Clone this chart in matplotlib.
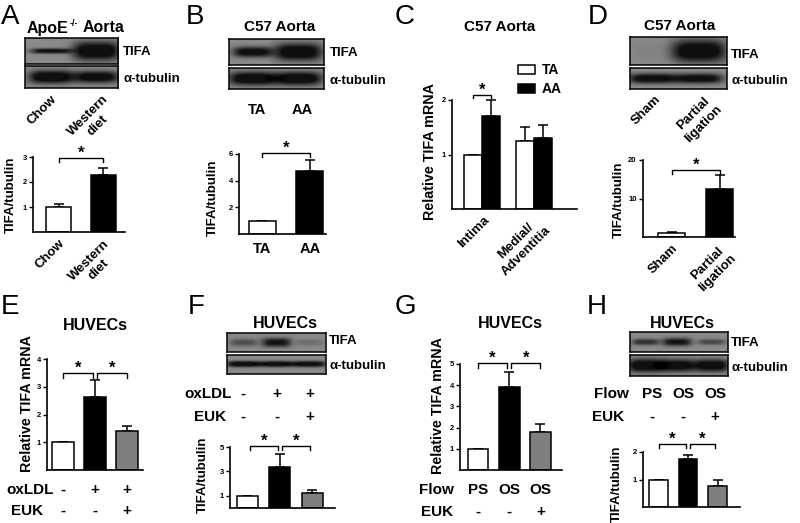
import numpy as np
import matplotlib
matplotlib.use("Agg")
import matplotlib.pyplot as plt
from matplotlib.transforms import blended_transform_factory

plt.rcParams['font.family'] = ['Liberation Sans', 'DejaVu Sans']

# ---------------- data ----------------
# A
a_labels = ['Chow', 'Western\ndiet']
a_vals = [1.0, 2.27]
a_errs = [0.12, 0.31]
a_yticks = [1, 2, 3]
a_tifa = [0.85, 1.0]
a_tub = [1.0, 0.95]
# B
b_labels = ['TA', 'AA']
b_vals = [1.0, 4.7]
b_errs = [0.0, 0.85]
b_yticks = [2, 4, 6]
b_tifa = [0.9, 1.0]
b_tub = [1.0, 1.0]
# C
c_groups = ['Intima', 'Medial/\nAdventitia']
c_ta = [1.0, 1.24]
c_ta_err = [0.0, 0.26]
c_aa = [1.70, 1.30]
c_aa_err = [0.30, 0.24]
c_yticks = [1, 2]
# D
d_labels = ['Sham', 'Partial\nligation']
d_vals = [1.0, 12.4]
d_errs = [0.2, 3.7]
d_yticks = [10, 20]
d_tifa = [0.05, 1.0]
d_tub = [0.92, 0.9]
# E
e_vals = [1.0, 2.63, 1.4]
e_errs = [0.0, 0.6, 0.17]
e_yticks = [1, 2, 3, 4]
e_oxldl = ['-', '+', '+']
e_euk = ['-', '-', '+']
# F
f_vals = [1.0, 3.4, 1.2]
f_errs = [0.0, 1.05, 0.28]
f_yticks = [1, 3, 5]
f_oxldl = ['-', '+', '+']
f_euk = ['-', '-', '+']
f_tifa = [0.4, 0.8, 0.18]
f_tub = [1.0, 0.95, 0.95]
# G
g_vals = [1.0, 3.9, 1.8]
g_errs = [0.0, 0.7, 0.35]
g_yticks = [1, 2, 3, 4, 5]
g_flow = ['PS', 'OS', 'OS']
g_euk = ['-', '-', '+']
# H
h_vals = [1.0, 1.75, 0.77]
h_errs = [0.0, 0.15, 0.2]
h_yticks = [1, 2]
h_flow = ['PS', 'OS', 'OS']
h_euk = ['-', '-', '+']
h_tifa = [0.6, 0.8, 0.45]
h_tub = [1.0, 0.95, 0.95]

WHITE, BLACK, GRAY = 'white', 'black', '#7f7f7f'

# ---------------- figure ----------------
W, H = 800, 523
fig = plt.figure(figsize=(8, 5.23), dpi=100)
fig.patch.set_facecolor('white')


def add_ax(x0, y0, x1, y1):
    return fig.add_axes([x0 / W, 1 - y1 / H, (x1 - x0) / W, (y1 - y0) / H])


def T(x, y, s, size=10, weight='bold', **kw):
    kw.setdefault('ha', 'center')
    kw.setdefault('va', 'center')
    return fig.text(x / W, 1 - y / H, s, fontsize=size, fontweight=weight, **kw)


def blot(box, lanes, intens, band_h, band_w, bg=0.54):
    ax = add_ax(*box)
    hh, ww = 80, 300
    yy, xx = np.mgrid[0:hh, 0:ww]
    yy = (yy + 0.5) / hh
    xx = (xx + 0.5) / ww
    img = np.full((hh, ww), bg)
    for cx, a, bh, bw in zip(lanes, intens, band_h, band_w):
        prof = np.exp(-np.abs((xx - cx) / bw) ** 4) * np.exp(-np.abs((yy - 0.5) / bh) ** 2.5)
        img = img - (bg - 0.06) * np.clip(a * prof * 1.25, 0, 1)
    ax.imshow(np.clip(img, 0, 1), cmap='gray', vmin=0, vmax=1, aspect='auto',
              extent=(0, 1, 1, 0), interpolation='bilinear')
    ax.set_xticks([])
    ax.set_yticks([])
    for s in ax.spines.values():
        s.set_linewidth(1.1)
    return ax


def bar_panel(box, pos, vals, errs, colors, width, xlim, ylim, yticks):
    ax = add_ax(*box)
    eb = ax.errorbar(pos, vals, yerr=[np.zeros(len(vals)), errs], fmt='none', ecolor='k',
                     elinewidth=1.1, capsize=3.5, capthick=1.1, zorder=1)
    for ch in eb.get_children():
        ch.set_clip_on(False)
    bars = ax.bar(pos, vals, width, color=colors, edgecolor='k', linewidth=1.1, zorder=2)
    ax.set_xlim(*xlim)
    ax.set_ylim(*ylim)
    ax.set_xticks([])
    ax.set_yticks(yticks)
    ax.tick_params(axis='y', length=3, width=1, labelsize=5.5, pad=1.5)
    for l in ax.get_yticklabels():
        l.set_fontweight('bold')
    for s in ['top', 'right']:
        ax.spines[s].set_visible(False)
    for s in ['left', 'bottom']:
        ax.spines[s].set_linewidth(1.2)
    ax.patch.set_alpha(0)
    return ax, bars


def bracket(ax, x1, x2, y, drop):
    ax.plot([x1, x1, x2, x2], [y - drop, y, y, y - drop], color='k', lw=1, clip_on=False)
    ax.text((x1 + x2) / 2, y, '*', ha='center', va='baseline', fontsize=12,
            fontweight='bold', clip_on=False)


def rot_label(x, y, s, size=9.5):
    T(x, y, s, size=size, rotation=45, ha='right', va='top', rotation_mode='anchor',
      multialignment='center')


ROW = 11

# panel letters
for letter, x, y in [('A', 10, 17), ('B', 195, 17), ('C', 405, 17), ('D', 598, 17),
                     ('E', 10, 307), ('F', 196, 307), ('G', 405, 307), ('H', 597, 307)]:
    T(x, y, letter, size=20, weight='normal')

# ---------------- A ----------------
T(27, 28, 'ApoE', size=11.5, ha='left')
T(70, 24, '-/-', size=6.5, ha='left')
T(83, 28, 'Aorta', size=11.5, ha='left')
blot((25, 38, 118, 64), [0.28, 0.76], a_tifa, [0.1, 0.36], [0.22, 0.25])
blot((25, 66, 118, 88), [0.28, 0.76], a_tub, [0.3, 0.27], [0.24, 0.24])
T(123, 52, 'TIFA', size=9.5, ha='left')
T(123, 79, '\u03b1-tubulin', size=9.5, ha='left')
rot_label(51, 93, a_labels[0])
rot_label(102, 93, a_labels[1])
axA, _ = bar_panel((33, 157, 125, 232), [0, 1], a_vals, a_errs, [WHITE, BLACK], 0.556,
                   (-0.567, 1.478), (0, 3), a_yticks)
bracket(axA, 0, 1, 2.96, 0.16)
axA.set_xticks([0, 1], a_labels, rotation=45, ha='right', rotation_mode='anchor',
               fontsize=9.5, fontweight='bold', multialignment='center')
axA.tick_params(axis='x', length=0, pad=4)
T(11, 195, 'TIFA/tubulin', size=9.5, rotation=90)

# ---------------- B ----------------
T(280, 27, 'C57 Aorta', size=11)
blot((229, 39, 324, 65), [0.25, 0.73], b_tifa, [0.2, 0.33], [0.21, 0.25])
blot((229, 68, 324, 89), [0.25, 0.73], b_tub, [0.32, 0.32], [0.25, 0.25])
T(330, 53, 'TIFA', size=9.5, ha='left')
T(330, 81, '\u03b1-tubulin', size=9.5, ha='left')
for lab, x in zip(b_labels, [257, 302]):
    T(x, 110, lab, size=10.5)
axB, _ = bar_panel((239, 154, 326, 234), [0, 1], b_vals, b_errs, [WHITE, BLACK], 0.57,
                   (-0.495, 1.34), (0, 6), b_yticks)
bracket(axB, 0, 1, 6.07, 0.3)
axB.set_xticks([0, 1], b_labels, fontsize=10.5, fontweight='bold')
axB.tick_params(axis='x', length=0, pad=6)
T(213, 198, 'TIFA/tubulin', size=9.5, rotation=90)

# ---------------- C ----------------
T(500, 27, 'C57 Aorta', size=11)
cw = 0.35
cpos = np.arange(len(c_groups))
axC, bTA = bar_panel((452, 100, 577, 209), cpos - cw / 2, c_ta, c_ta_err, WHITE, cw,
                     (-0.58, 1.84), (0, 2), c_yticks)
eb = axC.errorbar(cpos + cw / 2, c_aa, yerr=[np.zeros(2), c_aa_err], fmt='none', ecolor='k',
                  elinewidth=1.1, capsize=3.5, capthick=1.1, zorder=1)
for ch in eb.get_children():
    ch.set_clip_on(False)
bAA = axC.bar(cpos + cw / 2, c_aa, cw, color=BLACK, edgecolor='k', linewidth=1.1, zorder=2)
bracket(axC, -cw / 2, cw / 2, 2.10, 0.06)
axC.set_xticks(cpos + 0.02, c_groups, rotation=45, ha='right', rotation_mode='anchor',
               fontsize=9.5, fontweight='bold', multialignment='center')
axC.tick_params(axis='x', length=0, pad=4)
axC.legend([bTA, bAA], ['TA', 'AA'], loc='upper left', bbox_to_anchor=(518 / W, 1 - 63 / H),
           bbox_transform=fig.transFigure, frameon=False, prop={'weight': 'bold', 'size': 10},
           handlelength=1.25, handleheight=0.6, handletextpad=0.45, labelspacing=0.36,
           borderpad=0, borderaxespad=0)
T(430, 152, 'Relative TIFA mRNA', size=10.3, rotation=90)

# ---------------- D ----------------
T(680, 26, 'C57 Aorta', size=11)
blot((630, 37, 727, 65), [0.23, 0.71], d_tifa, [0.3, 0.4], [0.2, 0.28])
blot((630, 68, 727, 89), [0.23, 0.71], d_tub, [0.24, 0.24], [0.25, 0.25])
T(731, 55, 'TIFA', size=9.5, ha='left')
T(731, 81, '\u03b1-tubulin', size=9.5, ha='left')
rot_label(655, 93, d_labels[0])
rot_label(706, 93, d_labels[1])
axD, _ = bar_panel((643, 160, 735, 237), [0, 1], d_vals, d_errs, [WHITE, BLACK], 0.557,
                   (-0.588, 1.31), (0, 20), d_yticks)
bracket(axD, 0, 1, 17.4, 1.0)
axD.set_xticks([0, 1], d_labels, rotation=45, ha='right', rotation_mode='anchor',
               fontsize=9.5, fontweight='bold', multialignment='center')
axD.tick_params(axis='x', length=0, pad=4)
T(619, 200, 'TIFA/tubulin', size=9.5, rotation=90)

# ---------------- E ----------------
T(95, 325, 'HUVECs', size=11.5)
axE, _ = bar_panel((47, 359, 143, 470), [0, 1, 2], e_vals, e_errs, [WHITE, BLACK, GRAY], 0.69,
                   (-0.5, 2.5), (0, 4), e_yticks)
bracket(axE, 0, 0.94, 3.5, 0.18)
bracket(axE, 1.06, 2, 3.5, 0.18)
trE = blended_transform_factory(axE.transData, fig.transFigure)
T(30, 490, 'oxLDL', size=ROW)
T(27, 511, 'EUK', size=ROW)
for i, (s1, s2) in enumerate(zip(e_oxldl, e_euk)):
    axE.text(i, 1 - 490 / H, s1, transform=trE, ha='center', va='center', fontsize=ROW, fontweight='bold')
    axE.text(i, 1 - 511 / H, s2, transform=trE, ha='center', va='center', fontsize=ROW, fontweight='bold')
T(27, 404, 'Relative TIFA mRNA', size=10.3, rotation=90)

# ---------------- F ----------------
T(285, 324, 'HUVECs', size=11.5)
blot((227, 333, 326, 352), [0.17, 0.5, 0.83], f_tifa, [0.2, 0.24, 0.18], [0.14, 0.15, 0.14])
blot((227, 355, 326, 374), [0.17, 0.5, 0.83], f_tub, [0.15, 0.15, 0.15], [0.17, 0.17, 0.17])
T(329, 341, 'TIFA', size=9.5, ha='left')
T(329, 366, '\u03b1-tubulin', size=9.5, ha='left')
T(208, 394, 'oxLDL', size=ROW)
T(210, 417, 'EUK', size=ROW)
for x, s1, s2 in zip([243, 277, 310], f_oxldl, f_euk):
    T(x, 394, s1, size=ROW)
    T(x, 417, s2, size=ROW)
axF, _ = bar_panel((230, 447, 335, 508), [0, 1, 2], f_vals, f_errs, [WHITE, BLACK, GRAY], 0.65,
                   (-0.54, 2.71), (0, 5), f_yticks)
bracket(axF, 0.08, 0.94, 5.08, 0.33)
bracket(axF, 1.06, 1.94, 5.08, 0.33)
T(203, 475, 'TIFA/tubulin', size=9.5, rotation=90)

# ---------------- G ----------------
T(510, 324, 'HUVECs', size=11.5)
axG, _ = bar_panel((460, 364, 562, 470), [0, 1, 2], g_vals, g_errs, [WHITE, BLACK, GRAY], 0.66,
                   (-0.576, 2.69), (0, 5), g_yticks)
bracket(axG, 0, 0.94, 5.05, 0.24)
bracket(axG, 1.06, 2, 5.05, 0.24)
T(436, 490, 'Flow', size=ROW)
T(437, 512, 'EUK', size=ROW)
trG = blended_transform_factory(axG.transData, fig.transFigure)
for i, (s1, s2) in enumerate(zip(g_flow, g_euk)):
    axG.text(i, 1 - 490 / H, s1, transform=trG, ha='center', va='center', fontsize=ROW, fontweight='bold')
    axG.text(i, 1 - 512 / H, s2, transform=trG, ha='center', va='center', fontsize=ROW, fontweight='bold')
T(438, 406, 'Relative TIFA mRNA', size=10.3, rotation=90)

# ---------------- H ----------------
T(682, 324, 'HUVECs', size=11.5)
blot((630, 332, 728, 352), [0.16, 0.48, 0.83], h_tifa, [0.16, 0.2, 0.14], [0.14, 0.15, 0.14])
blot((630, 355, 728, 376), [0.16, 0.48, 0.83], h_tub, [0.32, 0.3, 0.3], [0.18, 0.18, 0.18])
T(731, 343, 'TIFA', size=9.5, ha='left')
T(731, 368, '\u03b1-tubulin', size=9.5, ha='left')
T(611, 394, 'Flow', size=ROW)
T(608, 417, 'EUK', size=ROW)
for x, s1, s2 in zip([652, 683, 715], h_flow, h_euk):
    T(x, 394, s1, size=ROW)
    T(x, 417, s2, size=ROW)
axH, _ = bar_panel((643, 452, 740, 507), [0, 1, 2], h_vals, h_errs, [WHITE, BLACK, GRAY], 0.64,
                   (-0.525, 2.76), (0, 2), h_yticks)
bracket(axH, 0, 0.94, 2.29, 0.15)
bracket(axH, 1.06, 1.9, 2.29, 0.15)
T(617, 484, 'TIFA/tubulin', size=9.5, rotation=90)

fig.savefig('out.png', dpi=100)
